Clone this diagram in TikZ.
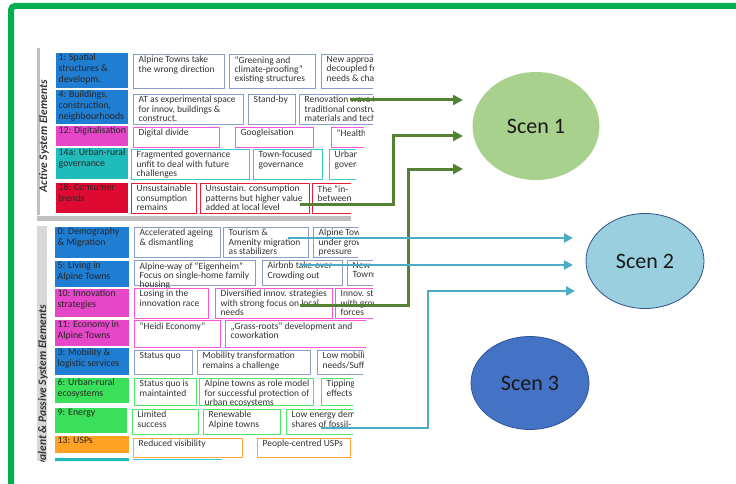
\documentclass[tikz,border=0pt]{standalone}
\usepackage{fontspec}
\setmainfont{Carlito}
\usetikzlibrary{arrows.meta,shapes.geometric}
\definecolor{framegreen}{HTML}{00B050}
\definecolor{lblue}{HTML}{1F7DD2}
\definecolor{lmag}{HTML}{E646C8}
\definecolor{lteal}{HTML}{20BCBC}
\definecolor{lred}{HTML}{DF0A32}
\definecolor{lgreen}{HTML}{3BE05A}
\definecolor{lorange}{HTML}{FFA122}
\definecolor{bgray}{HTML}{8A9DC4}
\definecolor{bmag}{HTML}{FF55DD}
\definecolor{bcyan}{HTML}{33CCD0}
\definecolor{bred}{HTML}{EA1F36}
\definecolor{bgreen}{HTML}{4CE866}
\definecolor{borange}{HTML}{FFA633}
\definecolor{sepgray}{HTML}{BFBFBF}
\definecolor{arrgreen}{HTML}{548235}
\definecolor{arrcyan}{HTML}{4BACC6}
\definecolor{sonefill}{HTML}{A9D18E}
\definecolor{stwofill}{HTML}{9ACFDF}
\definecolor{stwoline}{HTML}{2F4F8F}
\definecolor{sthreefill}{HTML}{4472C4}
\definecolor{sthreeline}{HTML}{2F5597}
\newcommand{\lcell}[7]{%
  \node[labcell=#6, minimum width={(#4-#2)*1pt}, minimum height={(#5-#3)*1pt}] (#1) at (#2,#3) {};
  \node[labtext] (#1t) at ([shift={(2.5,0.5)}]#1.north west) {#7};}
\newcommand{\tcell}[7]{%
  \node[cellbox=#6, minimum width={(#4-#2)*1pt}, minimum height={(#5-#3)*1pt}] (#1) at (#2,#3) {};
  \node[celltext] (#1t) at ([shift={(5.5,2)}]#1.north west) {#7};}
\begin{document}
\begin{tikzpicture}[x=1pt, y=-1pt,
  labcell/.style={fill=#1, inner sep=0pt, outer sep=0pt, anchor=north west},
  cellbox/.style={draw=#1, line width=1.3pt, fill=white, inner sep=0pt, anchor=north west},
  labtext/.style={anchor=north west, inner sep=0pt, align=left, text=black!85, font=\fontsize{9.8}{11}\selectfont},
  celltext/.style={anchor=north west, inner sep=0pt, align=left, text=black!80, font=\fontsize{9.5}{9.4}\selectfont},
  sectitle/.style={rotate=90, anchor=east, inner sep=0pt, font=\fontsize{11.5}{12}\selectfont\bfseries\itshape, text=black!80},
  scen/.style={ellipse, inner sep=0pt, font=\fontsize{22}{24}\selectfont, text=black!90},
  garrow/.style={arrgreen, line width=3pt, -{Triangle[length=10pt,width=10pt]}},
  carrow/.style={arrcyan, line width=2.6pt, -{Triangle[length=9pt,width=9pt]}}]
\useasboundingbox (0,0) rectangle (736,484);
\draw[line width=6pt, framegreen, rounded corners=4pt] (11,490) -- (11,6) -- (745,6);
\begin{scope}
\clip (30,44) -- (373,44) -- (373,126) -- (364,126) -- (364,148) -- (356,148) -- (356,181) -- (351,181)
  -- (351,224) -- (358,224) -- (358,259) -- (373,259) -- (373,319) -- (366,319) -- (366,348) -- (363,348)
  -- (363,377) -- (353,377) -- (353,461) -- (30,461) -- cycle;
\fill[sepgray] (37,48) rectangle (40,215);
\fill[sepgray] (37,216) rectangle (352,221);
\fill[sepgray!60] (37,226) rectangle (47,461);
\node[sectitle] (act) at (44,80) {Active System Elements};
\node[sectitle] (amb) at (43,305) {Ambivalent \& Passive System Elements};
\lcell{a1l}{56}{53}{128}{88}{lblue}{1: Spatial\\structures \&\\developm.}
\tcell{a1a}{133}{54}{224}{88}{bgray}{Alpine Towns take\\the wrong direction}
\tcell{a1b}{229}{54}{315}{88}{bgray}{“Greening and\\climate-proofing”\\existing structures}
\tcell{a1c}{321}{54}{385}{88}{bgray}{New approa\\decoupled fr\\needs \& chal}
\lcell{a2l}{56}{90}{128}{124}{lblue}{4: Buildings,\\construction,\\neighbourhoods}
\tcell{a2a}{133}{94}{243}{124}{bgray}{AT as experimental space\\for innov, buildings \&\\construct.}
\tcell{a2b}{248}{94}{295}{124}{bgray}{Stand-by}
\tcell{a2c}{299}{94}{385}{124}{bgray}{Renovation wave to\\traditional constru\\materials and tech}
\lcell{a3l}{56}{126}{128}{146}{lmag}{12: Digitalisation}
\tcell{a3a}{133}{127}{219}{147}{bmag}{Digital divide}
\tcell{a3b}{235}{127}{313}{147}{bmag}{Googleisation}
\tcell{a3c}{331}{127}{385}{147}{bmag}{“Health}
\lcell{a4l}{56}{148}{128}{179}{lteal}{14a: Urban-rural\\governance}
\tcell{a4a}{131}{149}{249}{179}{bcyan}{Fragmented governance\\unfit to deal with future\\challenges}
\tcell{a4b}{253}{149}{322}{179}{bcyan}{Town-focused\\governance}
\tcell{a4c}{329}{149}{385}{179}{bcyan}{Urban\\governance}
\lcell{a5l}{56}{183}{128}{213}{lred}{18: Consumer\\trends}
\tcell{a5a}{131}{183}{196}{213}{bred}{Unsustainable\\consumption\\remains}
\tcell{a5b}{200}{183}{309}{213}{bred}{Unsustain. consumption\\patterns but higher value\\added at local level}
\tcell{a5c}{312}{183}{385}{213}{bred}{The “in-\\between}
\lcell{b1l}{55}{227}{129}{258}{lblue}{0: Demography\\\& Migration}
\tcell{b1a}{134}{227}{220}{257}{bgray}{Accelerated ageing\\\& dismantling}
\tcell{b1b}{223}{227}{308}{257}{bgray}{Tourism \&\\Amenity migration\\as stabilizers}
\tcell{b1c}{313}{227}{385}{257}{bgray}{Alpine Towns\\under growth\\pressure}
\lcell{b2l}{55}{261}{129}{287}{lblue}{5: Living in\\Alpine Towns}
\tcell{b2a}{134}{260}{255}{285}{bgray}{Alpine-way of “Eigenheim”\\Focus on single-home family\\housing}
\tcell{b2b}{262}{260}{342}{285}{bgray}{Airbnb take-over\\Crowding out}
\tcell{b2c}{347}{260}{385}{285}{bgray}{New\\Towns}
\lcell{b3l}{55}{289}{129}{317}{lmag}{10: Innovation\\strategies}
\tcell{b3a}{134}{288}{208}{318}{bmag}{Losing in the\\innovation race}
\tcell{b3b}{215}{288}{332}{318}{bmag}{Diversified innov. strategies\\with strong focus on local\\needs}
\tcell{b3c}{335}{288}{385}{318}{bmag}{Innov. strategies\\with growth\\forces}
\lcell{b4l}{55}{320}{129}{346}{lmag}{11: Economy in\\Alpine Towns}
\tcell{b4a}{134}{320}{220}{347}{bmag}{“Heidi Economy”}
\tcell{b4b}{225}{320}{385}{347}{bmag}{„Grass-roots“ development and\\coworkation}
\lcell{b5l}{55}{348}{129}{375}{lblue}{3: Mobility \&\\logistic services}
\tcell{b5a}{134}{350}{192}{374}{bgray}{Status quo}
\tcell{b5b}{197}{350}{310}{374}{bgray}{Mobility transformation\\remains a challenge}
\tcell{b5c}{317}{350}{385}{374}{bgray}{Low mobility\\needs/Sufficiency}
\lcell{b6l}{55}{378}{129}{403}{lgreen}{6: Urban-rural\\ecosystems}
\tcell{b6a}{134}{378}{196}{405}{bgreen}{Status quo is\\maintainted}
\tcell{b6b}{199}{378}{313}{405}{bgreen}{Alpine towns as role model\\for successful protection of\\urban ecosystems}
\tcell{b6c}{321}{378}{385}{405}{bgreen}{Tipping\\effects}
\lcell{b7l}{55}{408}{127}{433}{lgreen}{9: Energy}
\tcell{b7a}{132}{409}{198}{434}{bgreen}{Limited\\success}
\tcell{b7b}{203}{409}{280}{434}{bgreen}{Renewable\\Alpine towns}
\tcell{b7c}{286}{409}{385}{434}{bgreen}{Low energy demand\\shares of fossil-}
\lcell{b8l}{55}{436}{129}{453}{lorange}{13: USPs}
\tcell{b8a}{133}{438}{242}{457}{borange}{Reduced visibility}
\tcell{b8b}{257}{438}{350}{457}{borange}{People-centred USPs}
\fill[lteal] (55,458) rectangle (129,462);
\draw[bcyan, line width=1.3pt] (133,459.5) -- (222,459.5);
\end{scope}
\node[scen, fill=sonefill, minimum width=127pt, minimum height=108pt] (s1) at (536,126) {Scen 1};
\node[scen, fill=stwofill, draw=stwoline, line width=0.8pt, minimum width=118pt, minimum height=95pt] (s2) at (645,261) {Scen 2};
\node[scen, fill=sthreefill, draw=sthreeline, line width=0.8pt, minimum width=118pt, minimum height=93pt] (s3) at (530,383) {Scen 3};
\coordinate (g1s) at (350,100);
\coordinate (g1e) at (463,100);
\coordinate (g2s) at (300,204);
\coordinate (g2e) at (463,136);
\coordinate (g3s) at (300,305);
\coordinate (g3e) at (463,169);
\coordinate (c1s) at (288,238);
\coordinate (c1e) at (573,238);
\coordinate (c2s) at (300,265);
\coordinate (c2e) at (573,265);
\coordinate (c3s) at (321,428);
\coordinate (c3e) at (575,291);
\draw[garrow] (g1s) -- (g1e);
\draw[garrow] (g2s) -- ++(93,0) |- (g2e);
\draw[garrow] (g3s) -- ++(108,0) |- (g3e);
\draw[carrow] (c1s) -- (c1e);
\draw[carrow] (c2s) -- (c2e);
\draw[carrow] (c3s) -- ++(107,0) |- (c3e);
\end{tikzpicture}
\end{document}
